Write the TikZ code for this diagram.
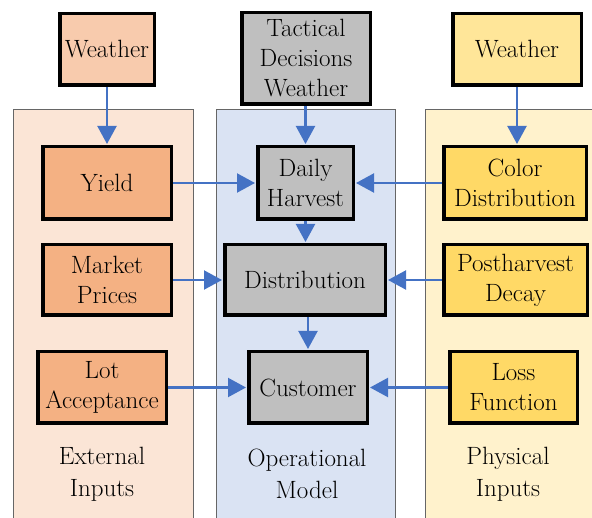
\documentclass[tikz,border=0pt]{standalone}
\usetikzlibrary{arrows.meta}
\definecolor{panelL}{HTML}{FBE5D6}
\definecolor{panelM}{HTML}{DAE3F3}
\definecolor{panelR}{HTML}{FFF2CC}
\definecolor{wL}{HTML}{F8CBAD}
\definecolor{boxL}{HTML}{F4B183}
\definecolor{boxM}{HTML}{BFBFBF}
\definecolor{wR}{HTML}{FFE699}
\definecolor{boxR}{HTML}{FFD966}
\definecolor{arrblue}{HTML}{4472C4}
\begin{document}
\begin{tikzpicture}[x=1pt,y=-1pt,
  box/.style={draw=black, line width=3.5pt, align=center, inner sep=0pt,
    font=\fontsize{25}{30}\selectfont},
  panel/.style={draw=black!60, line width=0.8pt},
  arr/.style={draw=arrblue, line width=2.2pt, shorten >=1pt,
    -{Triangle[length=18pt,width=19pt]}},
  lab/.style={align=center, font=\fontsize{25}{32}\selectfont}]
\useasboundingbox (0,0) rectangle (592,518);
% panels
\fill[panelL] (13,109) rectangle (193,520);
\draw[panel] (13,520) -- (13,109) -- (193,109) -- (193,520);
\fill[panelM] (216,109) rectangle (395,520);
\draw[panel] (216,520) -- (216,109) -- (395,109) -- (395,520);
\fill[panelR] (425,109) rectangle (594,520);
\draw[panel] (425,520) -- (425,109) -- (594,109);
% boxes
\node[box, fill=wL,   minimum width=94.5pt,  minimum height=71.5pt] (w1) at (107,49.5) {Weather};
\node[box, fill=boxL, minimum width=128.5pt, minimum height=72.5pt] (yield) at (107,183) {Yield};
\node[box, fill=boxL, minimum width=128.5pt, minimum height=70.5pt] (market) at (107,280) {Market\\Prices};
\node[box, fill=boxL, minimum width=128.5pt, minimum height=71.5pt] (lot) at (102,387.5) {Lot\\Acceptance};
\node[box, fill=boxM, minimum width=128.5pt, minimum height=91.5pt] (tact) at (306,58.5) {Tactical\\Decisions\\Weather};
\node[box, fill=boxM, minimum width=95.5pt,  minimum height=72.5pt] (daily) at (305.5,183) {Daily\\Harvest};
\node[box, fill=boxM, minimum width=160.5pt, minimum height=70.5pt] (dist) at (305,280) {Distribution};
\node[box, fill=boxM, minimum width=118.5pt, minimum height=71.5pt] (cust) at (308,387.5) {Customer};
\node[box, fill=wR,   minimum width=128.5pt, minimum height=71.5pt] (w2) at (517,49.5) {Weather};
\node[box, fill=boxR, minimum width=142.5pt, minimum height=72.5pt] (color) at (515,183) {Color\\Distribution};
\node[box, fill=boxR, minimum width=143.5pt, minimum height=70.5pt] (post) at (515.5,280) {Postharvest\\Decay};
\node[box, fill=boxR, minimum width=127.5pt, minimum height=71.5pt] (loss) at (513.5,387.5) {Loss\\Function};
% labels
\node[lab] (l1) at (102,474) {External\\Inputs};
\node[lab] (l2) at (307,474) {Operational\\Model};
\node[lab] (l3) at (508,474) {Physical\\Inputs};
% arrows
\draw[arr] (w1.south) -- (yield.north);
\draw[arr] (tact.south -| daily.north) -- (daily.north);
\draw[arr] (w2.south) -- (w2.south |- color.north);
\draw[arr] (yield.east) -- (daily.west);
\draw[arr] (color.west) -- (daily.east);
\draw[arr] (daily.south) -- (daily.south |- dist.north);
\draw[arr] (market.east) -- (dist.west);
\draw[arr] (post.west) -- (dist.east);
\draw[arr] (dist.south -| cust.north) -- (cust.north);
\draw[arr] (lot.east) -- (cust.west);
\draw[arr] (loss.west) -- (cust.east);
\end{tikzpicture}
\end{document}
